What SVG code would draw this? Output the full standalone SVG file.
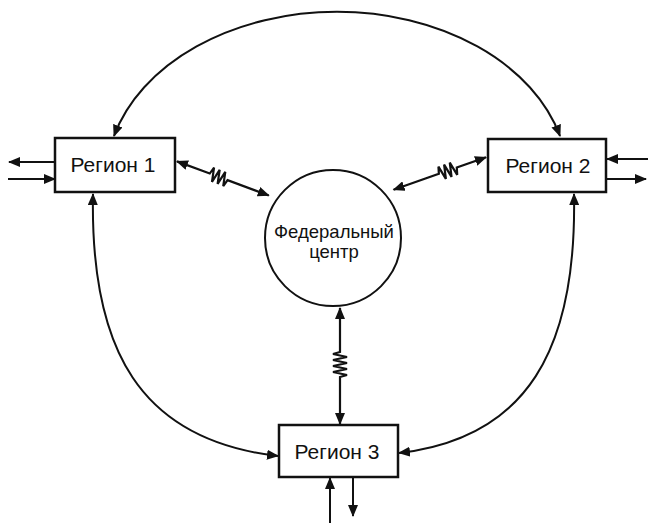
<svg xmlns="http://www.w3.org/2000/svg" width="648" height="523" viewBox="0 0 648 523">
<style>
.box{fill:#fff;stroke:#111;stroke-width:2.5}
.c{fill:none;stroke:#111;stroke-width:2}
.s{fill:none;stroke:#111;stroke-width:2.2;stroke-linejoin:miter}
.t{font-family:"Liberation Sans",Arial,sans-serif;fill:#111;text-anchor:middle}
</style>
<defs>
<marker id="ah" viewBox="0 0 12 10" refX="11" refY="5" markerWidth="12" markerHeight="10" markerUnits="userSpaceOnUse" orient="auto-start-reverse">
<path d="M0,0 L12,5 L0,10 Z" fill="#111"/>
</marker>
</defs>
<rect width="648" height="523" fill="#fff"/>
<g id="connectors">
<path class="c" d="M114,136 A231,168 0 0 1 560,136" marker-start="url(#ah)" marker-end="url(#ah)"/>
<path class="c" d="M93,194 C90,350 140,440 278,456" marker-start="url(#ah)" marker-end="url(#ah)"/>
<path class="c" d="M574,194 C577,350 527,438 399,453" marker-start="url(#ah)" marker-end="url(#ah)"/>
<g transform="translate(176,161) rotate(20.4)">
<path class="s" d="M1,0 H36 l2,-7 l3,14 l3,-14 l3,14 l3,-14 l3,14 l2,-7 H99" marker-start="url(#ah)" marker-end="url(#ah)"/>
</g>
<g transform="translate(487,157) rotate(160.7)">
<path class="s" d="M1,0 H32 l2,-7 l3,14 l3,-14 l3,14 l3,-14 l3,14 l2,-7 H99" marker-start="url(#ah)" marker-end="url(#ah)"/>
</g>
<path class="s" d="M340,308 V352 l-7,2 l14,3 l-14,3 l14,3 l-14,3 l14,3 l-14,3 l14,3 l-7,2 V424" marker-start="url(#ah)" marker-end="url(#ah)"/>
<path class="c" d="M55,162 H9" marker-end="url(#ah)"/>
<path class="c" d="M8,179 H55" marker-end="url(#ah)"/>
<path class="c" d="M648,159 H607" marker-end="url(#ah)"/>
<path class="c" d="M606,179 H646" marker-end="url(#ah)"/>
<path class="c" d="M330,523 V478" marker-end="url(#ah)"/>
<path class="c" d="M353,477 V516" marker-end="url(#ah)"/>
</g>
<g id="region1">
<rect class="box" x="55" y="138" width="120" height="54"/>
<text class="t" x="113" y="172" font-size="21">Регион 1</text>
</g>
<g id="region2">
<rect class="box" x="488" y="139" width="118" height="53"/>
<text class="t" x="548" y="173" font-size="21">Регион 2</text>
</g>
<g id="region3">
<rect class="box" x="279" y="425" width="119" height="52"/>
<text class="t" x="337" y="459" font-size="21">Регион 3</text>
</g>
<g id="center">
<circle cx="333" cy="238" r="68" fill="#fff" stroke="#111" stroke-width="2"/>
<text class="t" x="334" y="238" font-size="18.5">Федеральный</text>
<text class="t" x="334" y="258" font-size="18.5">центр</text>
</g>
</svg>
